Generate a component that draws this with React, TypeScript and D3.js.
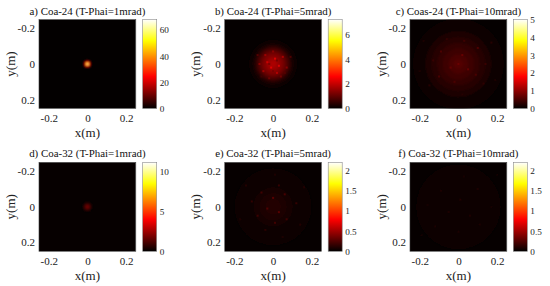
import React, { useEffect, useRef } from 'react';
import * as d3 from 'd3';

const titles = [
  'a) Coa-24 (T-Phai=1mrad)',
  'b) Coa-24 (T-Phai=5mrad)',
  'c) Coas-24 (T-Phai=10mrad)',
  'd) Coa-32 (T-Phai=1mrad)',
  'e) Coa-32 (T-Phai=5mrad)',
  'f) Coa-32 (T-Phai=10mrad)',
];
const axisTicks = [-0.2, 0, 0.2];
const colorMaxes = [68, 7.2, 5, 11.2, 2.2, 2.2];
const colorTicks = [
  [0, 20, 40, 60],
  [0, 2, 4, 6],
  [0, 1, 2, 3, 4, 5],
  [0, 5, 10],
  [0, 0.5, 1, 1.5, 2],
  [0, 0.5, 1, 1.5, 2],
];
const backgrounds = [0.3, 0.05, 0.035, 0.1, 0.02, 0.02];

// radial intensity: outer ring first, [radius in m, value]
const ringsA = [[0.026, 0.8], [0.021, 3], [0.017, 10], [0.014, 20], [0.011, 30], [0.008, 42], [0.005, 56], [0.003, 66]];
const ringsB = [[0.125, 0.1], [0.108, 0.22], [0.095, 0.45], [0.082, 0.75], [0.068, 1.05], [0.054, 1.3], [0.036, 1.55], [0.018, 1.75]];
const ringsC = [[0.235, 0.07], [0.2, 0.12], [0.17, 0.19], [0.14, 0.27], [0.11, 0.36], [0.08, 0.44], [0.05, 0.52], [0.025, 0.58]];
const ringsD = [[0.028, 0.15], [0.023, 0.4], [0.019, 0.75], [0.015, 1.1], [0.011, 1.45], [0.007, 1.75], [0.004, 1.95]];
const ringsE = [[0.2, 0.025], [0.16, 0.035], [0.13, 0.05], [0.1, 0.07], [0.07, 0.09], [0.04, 0.11]];
const ringsF = [[0.22, 0.025], [0.16, 0.03], [0.11, 0.035], [0.06, 0.04]];
const rings = [ringsA, ringsB, ringsC, ringsD, ringsE, ringsF];

// brightest speckles seen in the noisy panels: [x, y, value]
const speckB = [
  [0.01, -0.03, 2.2], [-0.03, -0.01, 2.05], [0.03, 0.01, 2.15], [-0.01, 0.02, 2.25], [0.05, -0.04, 1.7],
  [-0.05, 0.04, 1.65], [0.02, 0.05, 1.8], [-0.04, -0.05, 1.6], [0.07, 0.02, 1.35], [-0.07, 0.0, 1.35],
  [0.0, -0.07, 1.4], [0.04, 0.07, 1.15], [-0.02, 0.08, 1.1], [-0.08, -0.05, 0.85], [0.09, -0.04, 0.8],
  [0.02, -0.02, 1.2], [-0.02, 0.0, 1.25], [0.0, 0.04, 1.2], [0.06, 0.05, 0.85], [-0.06, 0.07, 0.65],
];
const speckC = [
  [0.02, -0.05, 0.72], [-0.04, 0.02, 0.68], [0.05, 0.03, 0.7], [0.0, 0.0, 0.74], [-0.09, -0.07, 0.55],
  [0.1, -0.09, 0.54], [0.09, 0.06, 0.52], [-0.1, 0.07, 0.5], [-0.02, 0.1, 0.52], [0.03, -0.13, 0.44],
  [-0.13, -0.02, 0.4], [0.14, 0.0, 0.4], [-0.06, -0.14, 0.35], [0.13, 0.11, 0.32], [-0.15, 0.12, 0.27],
  [0.17, -0.12, 0.27], [-0.18, -0.13, 0.2], [0.02, 0.17, 0.26], [0.19, 0.09, 0.19], [-0.2, 0.04, 0.19],
];
const speckE = [
  [0.0, -0.05, 0.27], [-0.03, 0.01, 0.25], [0.03, 0.03, 0.27], [0.06, -0.07, 0.22], [-0.06, -0.08, 0.2],
  [-0.08, 0.05, 0.19], [0.07, 0.07, 0.19], [0.01, 0.09, 0.2], [-0.11, -0.03, 0.15], [0.12, -0.02, 0.16],
  [0.03, -0.12, 0.16], [-0.04, 0.13, 0.13], [0.14, 0.1, 0.11], [-0.14, -0.12, 0.11], [0.16, -0.11, 0.1],
  [-0.17, 0.07, 0.09], [0.01, -0.18, 0.09], [0.05, 0.17, 0.09],
];
const speckF = [
  [0.01, -0.04, 0.1], [-0.05, 0.03, 0.095], [0.06, 0.05, 0.095], [-0.09, -0.09, 0.085], [0.1, -0.1, 0.085],
  [0.11, 0.1, 0.08], [-0.12, 0.11, 0.08], [0.0, 0.14, 0.08], [-0.16, -0.01, 0.07], [0.17, 0.0, 0.07],
  [0.03, -0.17, 0.07], [-0.19, 0.16, 0.06], [0.2, -0.18, 0.06],
];
const speckles = [[], speckB, speckC, [], speckE, speckF];

const hotStops = [0, 0.36, 0.76, 1];
const hotColors = ['#000000', '#ff0000', '#ffff00', '#ffffff'];

const plotLefts = [39, 224.7, 410];
const barLefts = [142.7, 328.2, 513.3];
const rowTops = [19.5, 162.3];
const plotW = 96.8;
const plotH = 89;
const barW = 14;
const serif = '"Liberation Serif", "Times New Roman", serif';

export default function App() {
  const svgRef = useRef<SVGSVGElement>(null);

  useEffect(() => {
    const svg = d3.select(svgRef.current);
    svg.selectAll('*').remove();

    const defs = svg.append('defs');
    const gradient = defs.append('linearGradient')
      .attr('id', 'hot').attr('x1', 0).attr('x2', 0).attr('y1', 1).attr('y2', 0);
    hotStops.forEach((s, i) => {
      gradient.append('stop').attr('offset', s).attr('stop-color', hotColors[i]);
    });
    defs.append('filter').attr('id', 'soft')
      .attr('x', '-20%').attr('y', '-20%').attr('width', '140%').attr('height', '140%')
      .append('feGaussianBlur').attr('stdDeviation', 0.8);
    defs.append('filter').attr('id', 'speck')
      .attr('x', '-20%').attr('y', '-20%').attr('width', '140%').attr('height', '140%')
      .append('feGaussianBlur').attr('stdDeviation', 0.55);

    titles.forEach((title, i) => {
      const col = i % 3;
      const left = plotLefts[col];
      const top = rowTops[Math.floor(i / 3)];
      const max = colorMaxes[i];

      const x = d3.scaleLinear().domain([-0.25, 0.25]).range([left, left + plotW]);
      const y = d3.scaleLinear().domain([-0.25, 0.25]).range([top, top + plotH]);
      const r = d3.scaleLinear().domain([0, 0.25]).range([0, plotW / 2]);
      const color = d3.scaleLinear<string>()
        .domain(hotStops.map((s) => s * max))
        .range(hotColors)
        .clamp(true);

      const g = svg.append('g');
      defs.append('clipPath').attr('id', `clip${i}`)
        .append('rect').attr('x', left).attr('y', top).attr('width', plotW).attr('height', plotH);

      const image = g.append('g').attr('clip-path', `url(#clip${i})`);
      image.append('rect')
        .attr('x', left).attr('y', top).attr('width', plotW).attr('height', plotH)
        .attr('fill', color(backgrounds[i]));
      image.append('g').attr('filter', 'url(#soft)')
        .selectAll('circle').data(rings[i]).enter().append('circle')
        .attr('cx', x(0)).attr('cy', y(0))
        .attr('r', (d) => r(d[0]))
        .attr('fill', (d) => color(d[1]));
      image.append('g').attr('filter', 'url(#speck)')
        .selectAll('rect').data(speckles[i]).enter().append('rect')
        .attr('x', (d) => x(d[0]) - 1).attr('y', (d) => y(d[1]) - 1)
        .attr('width', 2).attr('height', 2)
        .attr('fill', (d) => color(d[2]));
      g.append('rect')
        .attr('x', left).attr('y', top).attr('width', plotW).attr('height', plotH)
        .attr('fill', 'none').attr('stroke', '#3a3a3a').attr('stroke-width', 0.6);

      // axes, no visible tick marks in the reference
      const xAxis = g.append('g').attr('transform', `translate(0,${top + plotH})`)
        .call(d3.axisBottom(x).tickValues(axisTicks).tickSize(0).tickPadding(6).tickFormat((d) => d3.format('')(d as number).replace('−', '-')));
      const yAxis = g.append('g').attr('transform', `translate(${left},0)`)
        .call(d3.axisLeft(y).tickValues(axisTicks).tickSize(0).tickPadding(4).tickFormat((d) => d3.format('')(d as number).replace('−', '-')));
      [xAxis, yAxis].forEach((a) => {
        a.select('.domain').remove();
        a.selectAll('text').attr('font-family', serif).attr('font-size', 11).attr('fill', '#222');
      });

      g.append('text')
        .attr('x', left + plotW / 2).attr('y', top - 5)
        .attr('text-anchor', 'middle').attr('font-family', serif).attr('font-size', 10.9).attr('fill', '#111')
        .text(title);
      g.append('text')
        .attr('x', left + plotW / 2).attr('y', top + plotH + 28.5)
        .attr('text-anchor', 'middle').attr('font-family', serif).attr('font-size', 13).attr('fill', '#222')
        .text('x(m)');
      g.append('text')
        .attr('transform', `translate(${left - 24.5},${top + plotH / 2}) rotate(-90)`)
        .attr('text-anchor', 'middle').attr('font-family', serif).attr('font-size', 13).attr('fill', '#222')
        .text('y(m)');

      // colorbar
      const barLeft = barLefts[col];
      const barScale = d3.scaleLinear().domain([0, max]).range([top + plotH, top]);
      g.append('rect')
        .attr('x', barLeft).attr('y', top).attr('width', barW).attr('height', plotH)
        .attr('fill', 'url(#hot)').attr('stroke', '#8a8a8a').attr('stroke-width', 0.6);
      const barAxis = g.append('g').attr('transform', `translate(${barLeft + barW},0)`)
        .call(d3.axisRight(barScale).tickValues(colorTicks[i]).tickSize(0).tickPadding(3).tickFormat((d) => String(d)));
      barAxis.select('.domain').remove();
      barAxis.selectAll('text').attr('font-family', serif).attr('font-size', 9.2).attr('fill', '#222');
    });
  }, []);

  return <svg ref={svgRef} width={550} height={286} style={{ position: 'absolute', left: 0, top: 0, background: '#fff' }} />;
}
